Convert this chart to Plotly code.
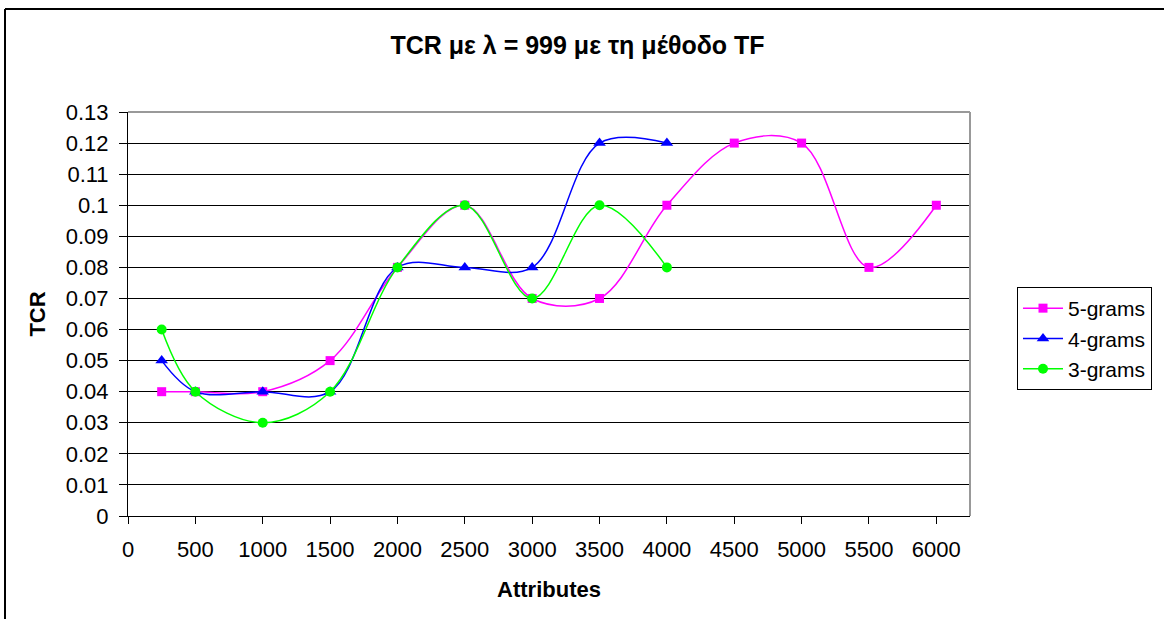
import plotly.graph_objects as go

attributes_5 = [250, 500, 1000, 1500, 2000, 2500, 3000, 3500, 4000, 4500, 5000, 5500, 6000]
tcr_5 = [0.04, 0.04, 0.04, 0.05, 0.08, 0.10, 0.07, 0.07, 0.10, 0.12, 0.12, 0.08, 0.10]
attributes_4 = [250, 500, 1000, 1500, 2000, 2500, 3000, 3500, 4000]
tcr_4 = [0.05, 0.04, 0.04, 0.04, 0.08, 0.08, 0.08, 0.12, 0.12]
attributes_3 = [250, 500, 1000, 1500, 2000, 2500, 3000, 3500, 4000]
tcr_3 = [0.06, 0.04, 0.03, 0.04, 0.08, 0.10, 0.07, 0.10, 0.08]

y_ticks = [round(i * 0.01, 2) for i in range(14)]
y_labels = ["0", "0.01", "0.02", "0.03", "0.04", "0.05", "0.06", "0.07", "0.08", "0.09", "0.1", "0.11", "0.12", "0.13"]
x_ticks = list(range(0, 6001, 500))

W, H = 1164, 619
L, R, T, B = 128, 970, 112, 516

font = "Liberation Sans, Arial, sans-serif"

fig = go.Figure()
series = [
    ("5-grams", attributes_5, tcr_5, "#FF00FF", "square", 9),
    ("4-grams", attributes_4, tcr_4, "#0000FF", "triangle-up", 11),
    ("3-grams", attributes_3, tcr_3, "#00FF00", "circle", 10),
]
for name, xs, ys, col, sym, sz in series:
    fig.add_trace(go.Scatter(
        x=xs, y=ys, name=name, mode="lines+markers",
        line=dict(color=col, width=1.5, shape="spline", smoothing=1),
        marker=dict(color=col, symbol=sym, size=sz),
    ))

def px_x(p):
    return (p - L) / (R - L)

def px_y(p):
    return (B - p) / (B - T)

fig.update_layout(
    width=W, height=H,
    margin=dict(l=L, r=W - R, t=T, b=H - B),
    paper_bgcolor="white", plot_bgcolor="white",
    font=dict(family=font, size=22, color="black"),
    title=dict(text="<b>TCR με λ = 999 με τη μέθοδο TF</b>", x=(385 + 770) / 2 / W, xanchor="center",
               xref="container", y=1 - 45 / H, yref="container", yanchor="middle",
               font=dict(size=25)),
    xaxis=dict(range=[0, 6250], tickvals=x_ticks, ticks="outside", ticklen=7, tickcolor="black",
               showgrid=False, zeroline=False, showline=True, linecolor="black", linewidth=1,
               title=dict(text="<b>Attributes</b>", font=dict(size=22), standoff=20),
               tickfont=dict(size=22), ticklabelstandoff=7),
    yaxis=dict(range=[0, 0.13], tickvals=y_ticks, ticktext=y_labels, ticks="outside", ticklen=8,
               tickcolor="black", showgrid=True, gridcolor="black", gridwidth=1, zeroline=False,
               showline=True, linecolor="black", linewidth=1,
               title=dict(text="<b>TCR</b>", font=dict(size=22), standoff=14),
               tickfont=dict(size=22), ticklabelstandoff=6),
    legend=dict(x=px_x(1017), y=px_y(287), xanchor="left", yanchor="top",
                bordercolor="black", borderwidth=1, bgcolor="white",
                font=dict(size=21), itemwidth=40, tracegroupgap=0),
    showlegend=True,
    shapes=[
        dict(type="line", xref="paper", yref="paper", x0=px_x(R), x1=px_x(R), y0=0, y1=1,
             line=dict(color="#999999", width=2)),
        dict(type="line", xref="paper", yref="paper", x0=0, x1=px_x(R), y0=1, y1=1,
             line=dict(color="#999999", width=2)),
        dict(type="line", xref="paper", yref="paper", x0=px_x(5), x1=px_x(W + 10), y0=px_y(9), y1=px_y(9),
             line=dict(color="black", width=2)),
        dict(type="line", xref="paper", yref="paper", x0=px_x(5), x1=px_x(5), y0=px_y(9), y1=px_y(H + 10),
             line=dict(color="black", width=2)),
    ],
)

fig.write_html("out.html")
